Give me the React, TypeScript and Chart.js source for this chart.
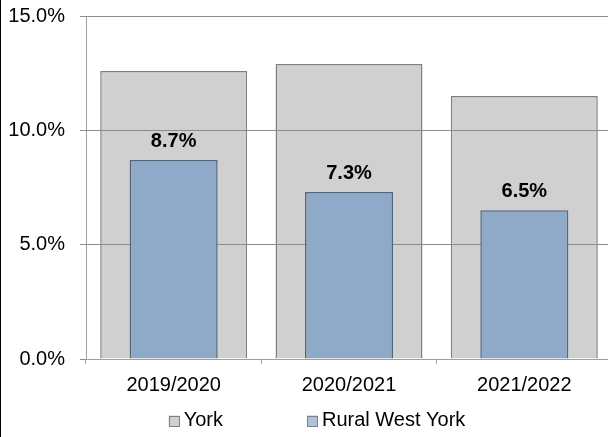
import React, { useEffect, useRef } from "react";
import { Chart, registerables } from "chart.js";

Chart.register(...registerables);

const categories = ["2019/2020", "2020/2021", "2021/2022"];
const seriesNames = ["York", "Rural West York"];
const yorkValues = [12.6, 12.9, 11.5];
const ruralValues = [8.7, 7.3, 6.5];
const yTickValues = [0, 5, 10, 15];

const FONT = "'Liberation Sans', Arial, Helvetica, sans-serif";
const GRID = "#8c8c8c";
const AXIS = "#a0a0a0";
const YORK_FILL = "#d0d0d0";
const YORK_BORDER = "#7f7f7f";
const RURAL_FILL = "#8eaac8";
const RURAL_BORDER = "#55657a";
const LEGEND_FILLS = ["#d0d0d0", "#a9c2e0"];

export default function App() {
  const ref = useRef<HTMLCanvasElement>(null);

  useEffect(() => {
    const canvas = ref.current;
    if (!canvas) return;

    const gridOverBack = {
      id: "gridOverBack",
      afterDatasetDraw(chart: any, args: any) {
        if (args.index !== 0) return;
        const { ctx, chartArea } = chart;
        const ys = chart.scales.y;
        ctx.save();
        ctx.strokeStyle = GRID;
        ctx.lineWidth = 1;
        ys.ticks.forEach((t: any) => {
          if (t.value === 0) return;
          const py = Math.round(ys.getPixelForValue(t.value) - 0.5) + 0.5;
          ctx.beginPath();
          ctx.moveTo(chartArea.left, py);
          ctx.lineTo(chartArea.right, py);
          ctx.stroke();
        });
        ctx.restore();
      },
    };

    const valueLabels = {
      id: "valueLabels",
      afterDatasetsDraw(chart: any) {
        const { ctx } = chart;
        const meta = chart.getDatasetMeta(1);
        ctx.save();
        ctx.fillStyle = "#000";
        ctx.font = `bold 20px ${FONT}`;
        ctx.textAlign = "center";
        ctx.textBaseline = "alphabetic";
        meta.data.forEach((bar: any, i: number) => {
          const v = chart.data.datasets[1].data[i] as number;
          ctx.fillText(v.toFixed(1) + "%", bar.x, bar.y - 13);
        });
        ctx.restore();
      },
    };

    const bottomLegend = {
      id: "bottomLegend",
      afterDraw(chart: any) {
        const { ctx } = chart;
        ctx.save();
        ctx.font = `20px ${FONT}`;
        ctx.textBaseline = "middle";
        ctx.textAlign = "left";
        const box = 11;
        const gapText = 4;
        const gapItems = 84;
        const items = chart.data.datasets.map((d: any, i: number) => ({
          label: d.label,
          fill: LEGEND_FILLS[i],
          w: ctx.measureText(d.label).width,
        }));
        const total =
          items.reduce((s: number, it: any) => s + box + gapText + it.w, 0) +
          gapItems * (items.length - 1);
        let x = 316 - total / 2;
        const cy = 421;
        items.forEach((it: any) => {
          ctx.fillStyle = it.fill;
          ctx.fillRect(x, cy - box / 2, box, box);
          ctx.strokeStyle = "#808080";
          ctx.lineWidth = 1;
          ctx.strokeRect(Math.round(x) + 0.5, Math.round(cy - box / 2) + 0.5, box - 1, box - 1);
          ctx.fillStyle = "#000";
          ctx.fillText(it.label, x + box + gapText, cy - 1);
          x += box + gapText + it.w + gapItems;
        });
        ctx.restore();
      },
    };

    const chart = new Chart(canvas, {
      type: "bar",
      data: {
        labels: categories,
        datasets: [
          {
            label: seriesNames[0],
            data: yorkValues,
            backgroundColor: YORK_FILL,
            borderColor: YORK_BORDER,
            borderWidth: 1.5,
            barPercentage: 0.838,
            categoryPercentage: 1,
            grouped: false,
            order: 2,
          },
          {
            label: seriesNames[1],
            data: ruralValues,
            backgroundColor: RURAL_FILL,
            borderColor: RURAL_BORDER,
            borderWidth: 1.5,
            barPercentage: 0.502,
            categoryPercentage: 1,
            grouped: false,
            order: 1,
          },
        ],
      },
      options: {
        responsive: false,
        animation: false,
        layout: { padding: { top: 16, right: 0, bottom: 0, left: 0 } },
        plugins: {
          legend: { display: false },
          tooltip: { enabled: false },
        },
        scales: {
          x: {
            offset: true,
            grid: {
              display: true,
              drawOnChartArea: false,
              drawTicks: true,
              tickLength: 5,
              offset: true,
              color: AXIS,
            },
            border: { display: true, color: AXIS, width: 1 },
            ticks: {
              color: "#000",
              font: { family: FONT, size: 20 },
              padding: 9,
              maxRotation: 0,
            },
            afterFit(scale: any) {
              scale.height = 78;
              scale.paddingLeft = 0;
              scale.paddingRight = 0;
            },
          },
          y: {
            min: 0,
            max: 15,
            afterBuildTicks(scale: any) {
              scale.ticks = yTickValues.map((v) => ({ value: v }));
            },
            grid: {
              color: GRID,
              drawTicks: true,
              tickLength: 6,
            },
            border: { display: true, color: AXIS, width: 1 },
            ticks: {
              color: "#000",
              font: { family: FONT, size: 20 },
              padding: 15,
              callback: (v: any) => Number(v).toFixed(1) + "%",
            },
            afterFit(scale: any) {
              scale.width = 85;
              scale.paddingTop = 0;
              scale.paddingBottom = 0;
            },
          },
        },
      },
      plugins: [gridOverBack, valueLabels, bottomLegend],
    });

    return () => chart.destroy();
  }, []);

  return (
    <div
      style={{
        position: "fixed",
        left: 0,
        top: 0,
        width: 612,
        height: 437,
        borderLeft: "1px solid #000",
        background: "#fff",
        overflow: "hidden",
      }}
    >
      <canvas ref={ref} width={611} height={437} style={{ display: "block" }} />
    </div>
  );
}
